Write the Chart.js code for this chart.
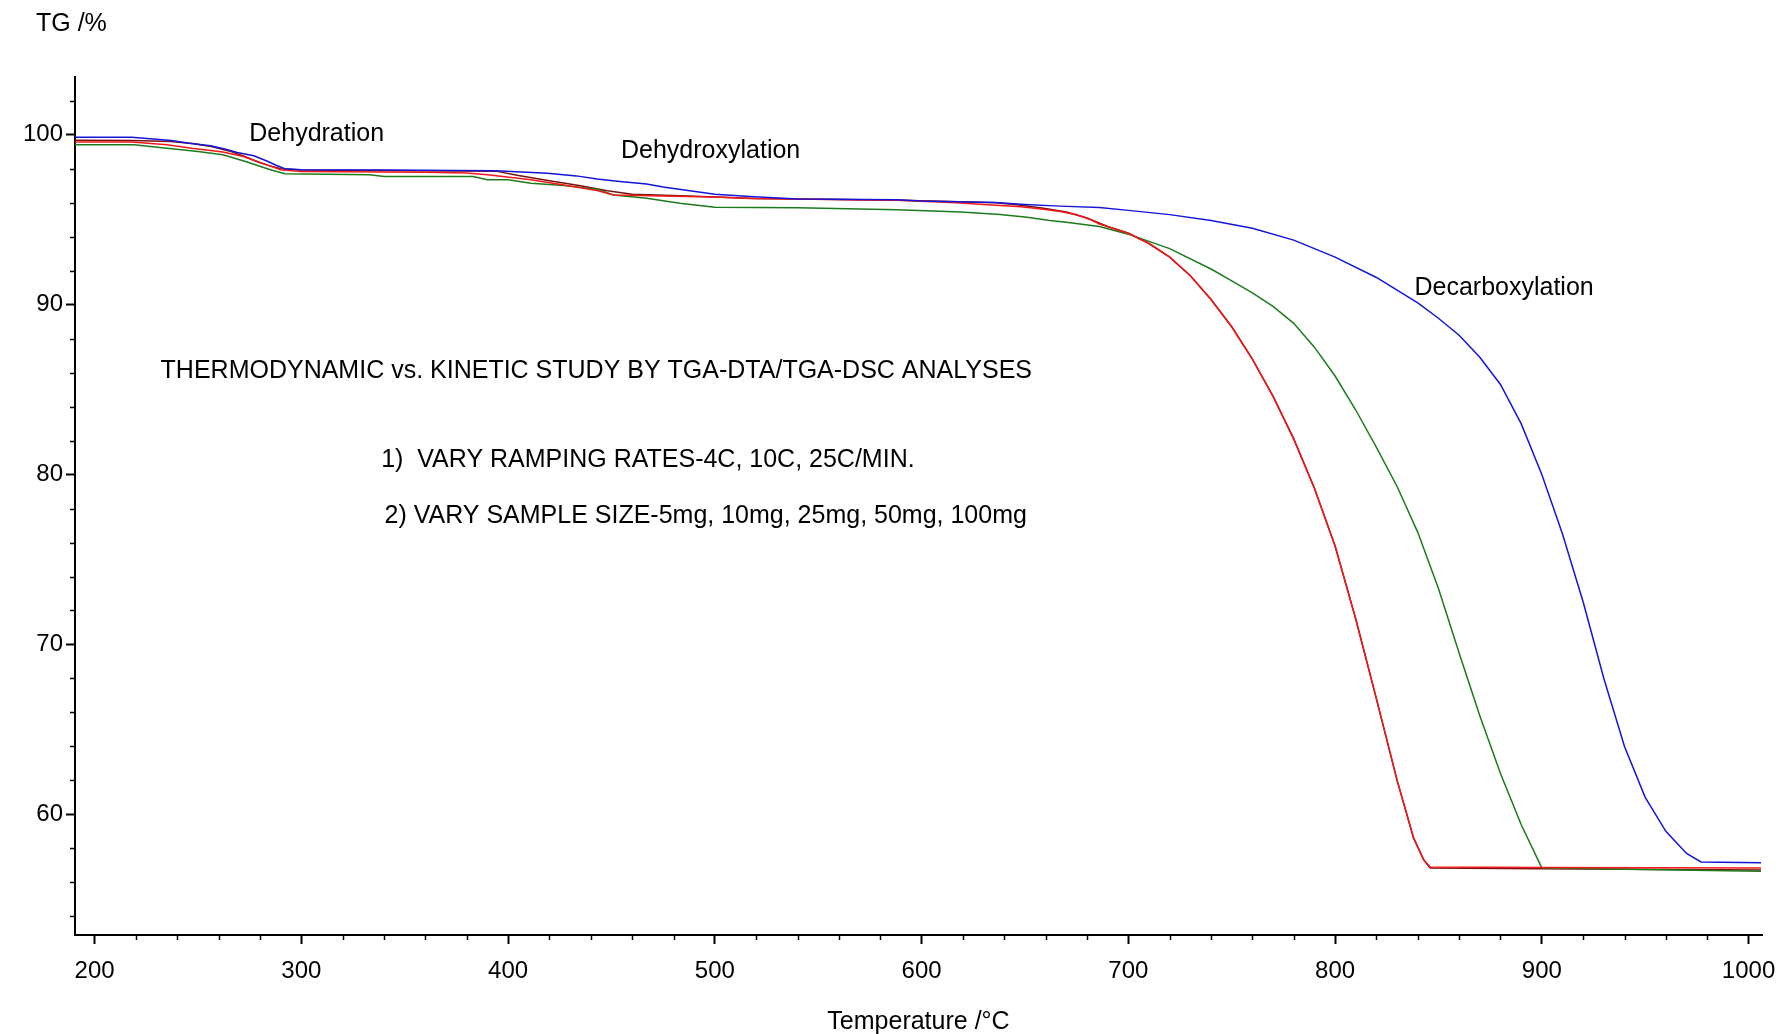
<!DOCTYPE html>
<html>
<head>
<meta charset="utf-8">
<title>TG curves</title>
<script src="https://cdn.jsdelivr.net/npm/chart.js@4.4.1/dist/chart.umd.min.js"></script>
<style>
  html, body { margin: 0; padding: 0; background: #fff; }
  #wrap { width: 1782px; height: 1034px; }
</style>
</head>
<body>
<div id="wrap"><canvas id="tgChart" width="1782" height="1034"></canvas></div>
<script>
// temperature (°C) and TG (%), one pair of arrays per run
const blueT  = [190, 218, 237, 246, 256, 263, 269, 277, 283, 288, 292, 300, 340, 394, 419, 433, 443, 454, 467, 475, 487, 500, 517, 540, 588, 600, 636, 650, 667, 686, 700, 720, 740, 760, 780, 800, 820, 840, 850, 860, 870, 880, 890, 900, 910, 920, 930, 940, 950, 960, 970, 977, 1006];
const blueTG = [99.85, 99.85, 99.66, 99.5, 99.35, 99.16, 98.96, 98.76, 98.47, 98.19, 98.0, 97.94, 97.92, 97.88, 97.74, 97.58, 97.4, 97.25, 97.1, 96.92, 96.72, 96.5, 96.36, 96.22, 96.18, 96.1, 96.02, 95.9, 95.8, 95.72, 95.55, 95.3, 94.95, 94.5, 93.8, 92.8, 91.6, 90.1, 89.2, 88.2, 86.9, 85.3, 83.0, 80.0, 76.5, 72.5, 68.0, 64.0, 61.0, 59.0, 57.7, 57.2, 57.15];

const redT  = [190, 218, 235, 247, 262, 272, 281, 290, 300, 360, 380, 390, 411, 427, 443, 451, 487, 500, 517, 588, 617, 630, 648, 659, 667, 675, 682, 686, 700, 710, 720, 730, 740, 750, 760, 770, 780, 790, 800, 810, 820, 830, 838, 843, 846, 900, 1006];
const redTG = [99.57, 99.57, 99.41, 99.2, 98.98, 98.72, 98.33, 97.94, 97.84, 97.8, 97.75, 97.64, 97.35, 97.05, 96.72, 96.46, 96.36, 96.34, 96.25, 96.15, 96.0, 95.9, 95.77, 95.62, 95.48, 95.29, 95.0, 94.75, 94.2, 93.6, 92.8, 91.7, 90.3, 88.7, 86.8, 84.6, 82.1, 79.2, 75.8, 71.5, 66.8, 62.0, 58.6, 57.3, 56.9, 56.88, 56.85];

const greenT  = [190, 219, 235, 250, 262, 273, 285, 292, 333, 340, 383, 390, 400, 411, 427, 443, 451, 467, 483, 500, 540, 588, 619, 638, 651, 662, 670, 686, 700, 720, 740, 750, 760, 770, 780, 790, 800, 810, 820, 830, 840, 850, 860, 870, 880, 890, 900, 1006];
const greenTG = [99.41, 99.41, 99.2, 99.02, 98.82, 98.43, 97.94, 97.7, 97.65, 97.54, 97.54, 97.35, 97.35, 97.15, 97.01, 96.8, 96.46, 96.27, 95.97, 95.74, 95.7, 95.58, 95.45, 95.3, 95.15, 94.95, 94.85, 94.6, 94.15, 93.3, 92.1, 91.4, 90.7, 89.9, 88.9, 87.5, 85.8, 83.8, 81.6, 79.3, 76.6, 73.3, 69.5, 65.8, 62.4, 59.4, 56.85, 56.65];

const maroonT  = [190, 218, 237, 248, 257, 265, 272, 279, 284, 290, 300, 394, 405, 420, 435, 448, 460, 487, 520, 590, 636, 648, 659, 670, 680, 690, 700, 710, 720, 730, 740, 750, 760, 770, 780, 790, 800, 810, 820, 830, 838, 843, 846, 900, 1006];
const maroonTG = [99.68, 99.66, 99.6, 99.47, 99.3, 99.05, 98.75, 98.4, 98.2, 98.0, 97.92, 97.86, 97.6, 97.3, 97.0, 96.7, 96.5, 96.4, 96.25, 96.15, 96.0, 95.85, 95.68, 95.45, 95.1, 94.6, 94.2, 93.6, 92.8, 91.7, 90.3, 88.7, 86.8, 84.6, 82.1, 79.2, 75.8, 71.5, 66.8, 62.0, 58.6, 57.3, 56.85, 56.8, 56.72];

const xTicks = [200, 300, 400, 500, 600, 700, 800, 900, 1000];
const yTicks = [60, 70, 80, 90, 100];

const notes = [
    { text: 'Dehydration', t: 274.8, tg: 100.06 },
    { text: 'Dehydroxylation', t: 454.6, tg: 99.06 },
    { text: 'Decarboxylation', t: 838.4, tg: 91.0 },
    { text: 'THERMODYNAMIC vs. KINETIC STUDY BY TGA-DTA/TGA-DSC ANALYSES', t: 231.9, tg: 86.06 },
    { text: '1)  VARY RAMPING RATES-4C, 10C, 25C/MIN.', t: 338.6, tg: 80.83 },
    { text: '2) VARY SAMPLE SIZE-5mg, 10mg, 25mg, 50mg, 100mg', t: 340.2, tg: 77.55 }
];

function pts(ts, vals) {
    return ts.map(function (t, i) { return { x: t, y: vals[i] }; });
}

function line(ts, vals, color) {
    return {
        data: pts(ts, vals),
        borderColor: color,
        borderWidth: 1.5,
        pointRadius: 0,
        tension: 0,
        fill: false
    };
}

const FONT = '"Liberation Sans", Arial, sans-serif';

// minor ticks, axis label at the top and the notes written on the plot
const extras = {
    id: 'extras',
    afterDraw: function (chart) {
        const ctx = chart.ctx;
        const x = chart.scales.x;
        const y = chart.scales.y;
        const area = chart.chartArea;
        ctx.save();
        ctx.strokeStyle = '#000';
        ctx.lineWidth = 1.5;
        ctx.beginPath();
        for (let v = 200; v <= x.max; v += 20) {
            if (v % 100 === 0) continue;
            const px = Math.round(x.getPixelForValue(v)) + 0.5;
            ctx.moveTo(px, area.bottom);
            ctx.lineTo(px, area.bottom + 5);
        }
        for (let v = 54; v <= y.max; v += 2) {
            if (v % 10 === 0) continue;
            const py = Math.round(y.getPixelForValue(v)) + 0.5;
            ctx.moveTo(area.left, py);
            ctx.lineTo(area.left - 5, py);
        }
        ctx.stroke();

        ctx.fillStyle = '#000';
        ctx.font = '25px ' + FONT;
        ctx.textBaseline = 'middle';
        ctx.textAlign = 'left';
        notes.forEach(function (n) {
            ctx.fillText(n.text, x.getPixelForValue(n.t), y.getPixelForValue(n.tg));
        });
        ctx.fillText('TG /%', 36, 24);
        ctx.restore();
    }
};

Chart.defaults.font.family = FONT;
Chart.defaults.font.size = 24;
Chart.defaults.color = '#000';

new Chart(document.getElementById('tgChart'), {
    type: 'line',
    data: {
        datasets: [
            line(blueT, blueTG, '#1515d8'),
            line(redT, redTG, '#f01818'),
            line(greenT, greenTG, '#1c7c1c'),
            line(maroonT, maroonTG, '#7a1010')
        ]
    },
    options: {
        responsive: false,
        animation: false,
        devicePixelRatio: 1,
        layout: { autoPadding: false, padding: { top: 77, right: 20, left: 0, bottom: 0 } },
        plugins: {
            legend: { display: false },
            tooltip: { enabled: false }
        },
        scales: {
            x: {
                type: 'linear',
                min: 190.5,
                max: 1006.5,
                afterFit: function (scale) {
                    scale.height = 99;
                    scale.paddingLeft = 0;
                    scale.paddingRight = 0;
                },
                afterBuildTicks: function (scale) {
                    scale.ticks = xTicks.map(function (v) { return { value: v }; });
                },
                border: { color: '#000', width: 2 },
                grid: { drawOnChartArea: false, tickLength: 9, tickColor: '#000', tickWidth: 2 },
                ticks: {
                    padding: 13, maxRotation: 0, autoSkip: false, color: '#000',
                    callback: function (v) { return String(v); }
                },
                title: {
                    display: true,
                    text: 'Temperature /°C',
                    color: '#000',
                    font: { size: 25 },
                    padding: { top: 0, bottom: -3 }
                }
            },
            y: {
                type: 'linear',
                min: 52.9,
                max: 103.4,
                afterFit: function (scale) { scale.width = 75; },
                afterBuildTicks: function (scale) {
                    scale.ticks = yTicks.map(function (v) { return { value: v }; });
                },
                border: { color: '#000', width: 2 },
                grid: { drawOnChartArea: false, tickLength: 9, tickColor: '#000', tickWidth: 2 },
                ticks: {
                    padding: 3, autoSkip: false, color: '#000',
                    callback: function (v) { return String(v); }
                }
            }
        }
    },
    plugins: [extras]
});
</script>
</body>
</html>
